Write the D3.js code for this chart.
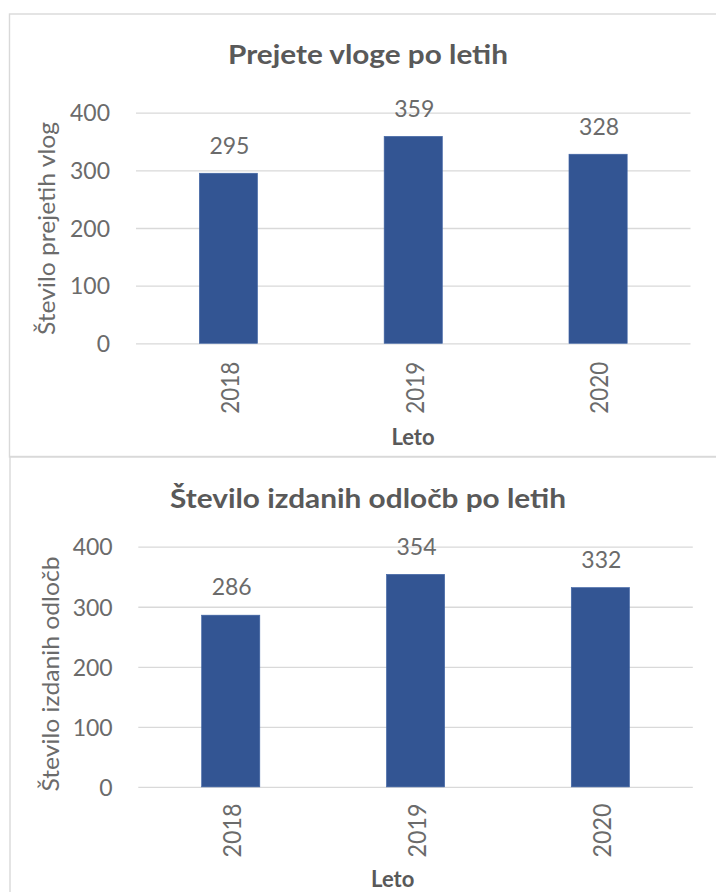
<!DOCTYPE html>
<html>
<head>
<meta charset="utf-8">
<script src="https://cdn.jsdelivr.net/npm/d3@7/dist/d3.min.js"></script>
<style>
  html, body { margin: 0; padding: 0; background: #fff; }
  svg { display: block; }
</style>
</head>
<body>
<div id="chart"></div>
<script>
// ---- data ----
const years = ["2018", "2019", "2020"];
const receivedApplications = [295, 359, 328];
const issuedDecisions = [286, 354, 332];
const yTickValues = [0, 100, 200, 300, 400];
const titles = ["Prejete vloge po letih", "Število izdanih odločb po letih"];
const yAxisTitles = ["Število prejetih vlog", "Število izdanih odločb"];
const xAxisTitle = "Leto";

// ---- styling / layout ----
const W = 716, H = 892;
const FONT = "Lato, 'Open Sans', sans-serif";
const TITLE_COLOR = "#595959";
const TEXT = "#6b6b6b";
const GRID = "#D9D9D9";
const BAR = "#335593";

const layouts = [
  { boxTop: 14, boxLeft: 9.5, boxBottom: 457,
    plotL: 136, plotR: 690.5, yTop: 112.7, yBot: 343.3,
    titleX: 368, titleY: 64.3, titleW: 280,
    yTitleX: 55, yTitleCy: 228.5, yTitleW: 213,
    tickRight: 110, xLabelGap: 18.4, xLabelLen: 52,
    letoX: 413, letoY: 445 },
  { boxTop: 456.5, boxLeft: 10, boxBottom: 900,
    plotL: 138.3, plotR: 692.8, yTop: 546.7, yBot: 786.9,
    titleX: 368, titleY: 508, titleW: 396,
    yTitleX: 59, yTitleCy: 674, yTitleW: 235,
    tickRight: 112.7, xLabelGap: 16.5, xLabelLen: 54,
    letoX: 392.7, letoY: 886.5 }
];

const svg = d3.select("#chart").append("svg")
  .attr("width", W).attr("height", H)
  .attr("viewBox", `0 0 ${W} ${H}`);

svg.append("rect").attr("width", W).attr("height", H).attr("fill", "#fff");

function fitText(sel, target) {
  const len = sel.node().getComputedTextLength();
  if (len > 0) sel.attr("textLength", target).attr("lengthAdjust", "spacingAndGlyphs");
}

function drawChart(values, L, i) {
  const g = svg.append("g");

  // chart border
  g.append("rect")
    .attr("x", L.boxLeft).attr("y", L.boxTop)
    .attr("width", W + 20 - L.boxLeft).attr("height", L.boxBottom - L.boxTop)
    .attr("fill", "none").attr("stroke", GRID).attr("stroke-width", 1.4);

  const x = d3.scaleBand().domain(years)
    .range([L.plotL, L.plotR])
    .paddingInner(0.685).paddingOuter(0.3425);
  const y = d3.scaleLinear().domain([0, 400]).range([L.yBot, L.yTop]);

  // y axis with gridlines
  const yAxis = d3.axisLeft(y).tickValues(yTickValues)
    .tickSize(-(L.plotR - L.plotL)).tickPadding(L.plotL - L.tickRight);
  const ya = g.append("g").attr("transform", `translate(${L.plotL},0)`).call(yAxis);
  ya.select(".domain").remove();
  ya.selectAll(".tick line").attr("stroke", GRID).attr("stroke-width", 1.3);
  ya.selectAll(".tick text")
    .attr("fill", TEXT).attr("font-family", FONT).attr("font-size", 23)
    .attr("dy", "0.36em");

  // bars
  g.selectAll("rect.bar").data(values).enter().append("rect")
    .attr("class", "bar")
    .attr("x", (d, k) => x(years[k]))
    .attr("width", x.bandwidth())
    .attr("y", d => y(d))
    .attr("height", d => y(0) - y(d))
    .attr("fill", BAR)
    .attr("stroke", "#4266a6").attr("stroke-width", 0.6);

  // data labels
  g.selectAll("text.val").data(values).enter().append("text")
    .attr("class", "val")
    .attr("x", (d, k) => x(years[k]) + x.bandwidth() / 2 + 1)
    .attr("y", d => y(d) - 19.7)
    .attr("text-anchor", "middle")
    .attr("fill", TEXT).attr("font-family", FONT).attr("font-size", 23)
    .text(d => d);

  // x axis (category labels, rotated)
  const xAxis = d3.axisBottom(x).tickSize(0);
  const xa = g.append("g").attr("transform", `translate(0,${L.yBot})`).call(xAxis);
  xa.select(".domain").remove();
  xa.selectAll(".tick text")
    .attr("fill", TEXT).attr("font-family", FONT).attr("font-size", 25)
    .attr("text-anchor", "end")
    .attr("transform", "rotate(-90)")
    .attr("x", -L.xLabelGap)
    .attr("y", 1.5)
    .attr("dy", "0.35em")
    .each(function () { fitText(d3.select(this), L.xLabelLen); });

  // title
  const t = g.append("text")
    .attr("x", L.titleX).attr("y", L.titleY)
    .attr("text-anchor", "middle")
    .attr("fill", TITLE_COLOR).attr("font-family", FONT).attr("font-weight", "bold")
    .attr("font-size", 27)
    .text(titles[i]);
  fitText(t, L.titleW);

  // y-axis title
  const yt = g.append("text")
    .attr("transform", `translate(${L.yTitleX},${L.yTitleCy}) rotate(-90)`)
    .attr("text-anchor", "middle")
    .attr("fill", TEXT).attr("font-family", FONT).attr("font-size", 23)
    .text(yAxisTitles[i]);
  fitText(yt, L.yTitleW);

  // x-axis title
  g.append("text")
    .attr("x", L.letoX).attr("y", L.letoY)
    .attr("text-anchor", "middle")
    .attr("fill", TITLE_COLOR).attr("font-family", FONT).attr("font-weight", "bold")
    .attr("font-size", 22)
    .text(xAxisTitle);
}

drawChart(receivedApplications, layouts[0], 0);
drawChart(issuedDecisions, layouts[1], 1);
</script>
</body>
</html>
